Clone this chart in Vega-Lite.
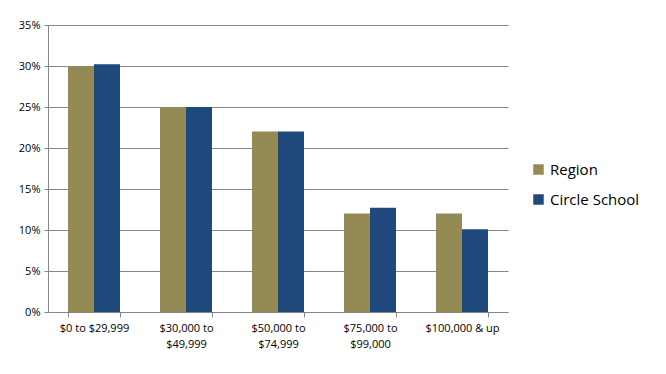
{
  "$schema": "https://vega.github.io/schema/vega-lite/v6.json",
  "width": 460,
  "height": 287,
  "autosize": "none",
  "padding": {"left": 48, "top": 25, "right": 158, "bottom": 62},
  "background": "white",
  "config": {"view": {"stroke": null}, "font": "Open Sans"},
  "data": {
    "values": [
      {"income": "$0 to $29,999", "series": "Region", "share": 0.30},
      {"income": "$0 to $29,999", "series": "Circle School", "share": 0.302},
      {"income": "$30,000 to $49,999", "series": "Region", "share": 0.25},
      {"income": "$30,000 to $49,999", "series": "Circle School", "share": 0.25},
      {"income": "$50,000 to $74,999", "series": "Region", "share": 0.22},
      {"income": "$50,000 to $74,999", "series": "Circle School", "share": 0.22},
      {"income": "$75,000 to $99,000", "series": "Region", "share": 0.12},
      {"income": "$75,000 to $99,000", "series": "Circle School", "share": 0.127},
      {"income": "$100,000 & up", "series": "Region", "share": 0.12},
      {"income": "$100,000 & up", "series": "Circle School", "share": 0.101}
    ]
  },
  "mark": {"type": "bar"},
  "encoding": {
    "x": {
      "field": "income",
      "type": "nominal",
      "sort": null,
      "scale": {"paddingInner": 0.435, "paddingOuter": 0.2175},
      "axis": {
        "title": null,
        "labelAngle": 0,
        "labelFontSize": 11,
        "labelColor": "#000000",
        "labelPadding": 5,
        "labelLineHeight": 16,
        "domainColor": "#868686",
        "tickColor": "#868686",
        "tickSize": 5,
        "tickBand": "extent",
        "labelExpr": "length(datum.label) > 14 ? [substring(datum.label, 0, indexof(datum.label, ' $')), substring(datum.label, indexof(datum.label, ' $') + 1)] : datum.label"
      }
    },
    "xOffset": {"field": "series", "type": "nominal", "sort": ["Region", "Circle School"]},
    "y": {
      "field": "share",
      "type": "quantitative",
      "scale": {"domain": [0, 0.35], "nice": false},
      "axis": {
        "title": null,
        "format": ".0%",
        "values": [0, 0.05, 0.1, 0.15, 0.2, 0.25, 0.3, 0.35],
        "labelFontSize": 11,
        "labelColor": "#000000",
        "labelPadding": 4,
        "gridColor": "#868686",
        "gridOpacity": 1,
        "domainColor": "#868686",
        "tickColor": "#868686",
        "tickSize": 4
      }
    },
    "color": {
      "field": "series",
      "type": "nominal",
      "sort": ["Region", "Circle School"],
      "scale": {"domain": ["Region", "Circle School"], "range": ["#948A54", "#1F497D"]},
      "legend": {
        "title": null,
        "orient": "none",
        "legendX": 483,
        "legendY": 137,
        "symbolType": "square",
        "symbolSize": 110,
        "symbolStrokeWidth": 0,
        "labelFontSize": 15,
        "labelColor": "#000000",
        "rowPadding": 14,
        "labelOffset": 4
      }
    }
  }
}
